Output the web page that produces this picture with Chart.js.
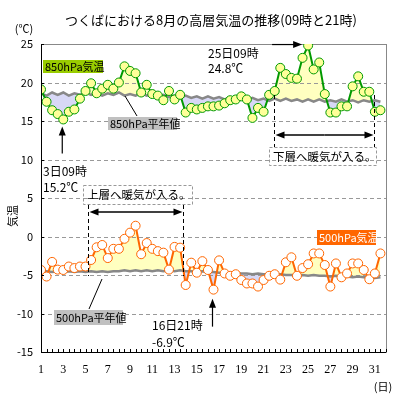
<!DOCTYPE html>
<html>
<head>
<meta charset="utf-8">
<script src="https://cdn.jsdelivr.net/npm/chart.js@4.4.1/dist/chart.umd.min.js"></script>
<style>
  html, body { margin: 0; padding: 0; background: #fff; }
</style>
</head>
<body>
<canvas id="chart" width="400" height="400"></canvas>
<script>
// 09時と21時の観測 (8月1日09時 〜 8月31日21時)
const obsDays = [];
for (let d = 1; d <= 31; d++) { obsDays.push(d, d + 0.5); }

// 850hPa 気温
const temp850 = [19.1, 17.5, 16.4, 15.9, 15.2, 16.2, 16.5, 17.9, 18.9, 19.9,
  18.6, 19.2, 19.7, 19.2, 20.0, 22.1, 21.5, 21.2, 18.7, 19.7,
  18.5, 18.3, 17.7, 18.9, 17.8, 18.4, 16.1, 16.7, 16.5, 16.7,
  16.9, 16.9, 17.0, 17.3, 17.7, 17.8, 18.2, 17.8, 15.4, 16.7,
  16.2, 18.4, 18.9, 21.9, 21.1, 20.6, 20.5, 23.2, 24.8, 21.7,
  22.6, 18.5, 16.1, 16.1, 16.9, 16.9, 19.5, 20.8, 18.8, 18.8,
  16.2, 16.4];

// 850hPa 平年値
const normal850 = [18.6, 18.3, 18.7, 18.4, 18.7, 18.3, 18.6, 18.4, 18.7, 18.4,
  18.6, 18.3, 18.6, 18.4, 18.7, 18.3, 18.5, 18.3, 18.6, 18.3,
  18.5, 18.2, 18.4, 18.1, 18.3, 18.0, 18.3, 18.0, 18.2, 17.9,
  18.2, 17.9, 18.1, 17.8, 18.1, 17.8, 18.0, 17.7, 18.0, 17.7,
  17.9, 17.6, 17.9, 17.6, 17.9, 17.6, 17.8, 17.5, 17.8, 17.5,
  17.8, 17.5, 17.7, 17.5, 17.8, 17.5, 17.7, 17.4, 17.7, 17.5,
  17.7, 17.5];

// 500hPa 気温
const temp500 = [-4.35, -5.2, -3.3, -4.3, -4.35, -3.9, -4.1, -3.9, -3.9, -3.05,
  -1.4, -1.1, -2.8, -1.6, -1.6, -0.3, 0.5, 1.4, -2.3, -0.85,
  -1.6, -1.9, -2.1, -4.3, -1.35, -1.45, -6.3, -3.4, -4.7, -3.2,
  -4.35, -6.9, -3.1, -4.8, -5.1, -4.9, -5.65, -6.1, -6.1, -6.5,
  -5.65, -5.1, -4.9, -5.6, -3.35, -2.7, -5.1, -4.1, -3.6, -2.2,
  -2.2, -3.7, -6.5, -3.5, -5.3, -4.8, -3.5, -3.5, -4.35, -5.55,
  -4.8, -2.2];

// 500hPa 平年値
const normal500 = [-4.6, -4.5, -4.6, -4.5, -4.6, -4.5, -4.6, -4.5, -4.6, -4.5,
  -4.6, -4.5, -4.6, -4.5, -4.5, -4.4, -4.5, -4.4, -4.5, -4.4,
  -4.5, -4.4, -4.5, -4.4, -4.5, -4.4, -4.5, -4.5, -4.6, -4.5,
  -4.6, -4.6, -4.7, -4.7, -4.8, -4.7, -4.8, -4.8, -4.9, -4.8,
  -4.9, -4.9, -5.0, -4.9, -5.0, -5.0, -5.1, -5.0, -5.1, -5.0,
  -5.1, -5.1, -5.2, -5.1, -5.2, -5.2, -5.3, -5.2, -5.3, -5.3,
  -5.4, -5.3];

// 暖気の入った期間 (日)
const warmUpper = [5.25, 13.8];
const warmLower = [21.9, 30.9];

const FONT = '"Noto Sans CJK JP", "Noto Sans", sans-serif';

function toXY(values) {
  return values.map((v, i) => ({ x: obsDays[i], y: v }));
}

// Draw a line with a filled arrow head at (x2, y2)
function arrow(ctx, x1, y1, x2, y2) {
  const a = Math.atan2(y2 - y1, x2 - x1);
  ctx.beginPath();
  ctx.moveTo(x1, y1);
  ctx.lineTo(x2 - 6 * Math.cos(a), y2 - 6 * Math.sin(a));
  ctx.stroke();
  ctx.beginPath();
  ctx.moveTo(x2, y2);
  ctx.lineTo(x2 - 9 * Math.cos(a) + 3.5 * Math.sin(a), y2 - 9 * Math.sin(a) - 3.5 * Math.cos(a));
  ctx.lineTo(x2 - 9 * Math.cos(a) - 3.5 * Math.sin(a), y2 - 9 * Math.sin(a) + 3.5 * Math.cos(a));
  ctx.closePath();
  ctx.fill();
}

function labelBox(ctx, text, x, y, w, h, bg, fg) {
  ctx.fillStyle = bg;
  ctx.fillRect(x, y, w, h);
  ctx.fillStyle = fg;
  ctx.textAlign = 'left';
  ctx.textBaseline = 'middle';
  ctx.fillText(text, x + 2, y + h / 2 + 0.5);
}

// Frame, grid, minor ticks, texts and arrows
const decorations = {
  id: 'decorations',
  beforeDatasetsDraw(chart) {
    const { ctx, chartArea: a } = chart;
    const ys = chart.scales.y;
    ctx.save();
    ctx.strokeStyle = '#888';
    ctx.lineWidth = 1;
    ctx.strokeRect(a.left + 0.5, a.top + 0.5, a.right - a.left, a.bottom - a.top);
    // dashed horizontal grid
    ctx.strokeStyle = '#999';
    ctx.setLineDash([4, 3]);
    ctx.beginPath();
    for (let v = -10; v <= 20; v += 5) {
      const y = Math.round(ys.getPixelForValue(v)) + 0.5;
      ctx.moveTo(a.left, y);
      ctx.lineTo(a.right, y);
    }
    ctx.stroke();
    ctx.restore();
  },
  afterDraw(chart) {
    const { ctx, chartArea: a } = chart;
    const xs = chart.scales.x, ys = chart.scales.y;
    ctx.save();

    // axes lines
    ctx.strokeStyle = '#000';
    ctx.lineWidth = 1;
    ctx.beginPath();
    ctx.moveTo(a.left + 0.5, a.top);
    ctx.lineTo(a.left + 0.5, a.bottom + 0.5);
    ctx.lineTo(a.right, a.bottom + 0.5);
    ctx.stroke();

    // minor ticks on the day axis
    ctx.beginPath();
    for (let v = 1; v <= 32; v += 0.5) {
      const x = Math.round(xs.getPixelForValue(v)) + 0.5;
      ctx.moveTo(x, a.bottom);
      ctx.lineTo(x, a.bottom - 3);
    }
    // ticks on temperature axis
    for (let v = -15; v <= 25; v += 5) {
      const y = Math.round(ys.getPixelForValue(v)) + 0.5;
      ctx.moveTo(a.left, y);
      ctx.lineTo(a.left + 3, y);
    }
    ctx.stroke();

    // title and unit labels
    ctx.fillStyle = '#000';
    ctx.font = '13px ' + FONT;
    ctx.textAlign = 'center';
    ctx.textBaseline = 'middle';
    ctx.fillText('つくばにおける8月の高層気温の推移(09時と21時)', 211, 20);
    ctx.font = '11px ' + FONT;
    ctx.fillText('(℃)', 24, 29);
    ctx.fillText('(日)', 383, 387);
    ctx.save();
    ctx.translate(13, 216);
    ctx.rotate(-Math.PI / 2);
    ctx.fillText('気温', 0, 0);
    ctx.restore();

    // legend labels
    ctx.font = '11px ' + FONT;
    labelBox(ctx, '850hPa気温', 43, 60, 60, 13, '#99cc00', '#000');
    labelBox(ctx, '500hPa気温', 317, 230, 59, 15, '#ff6600', '#fff');

    // leader lines to normal labels
    ctx.strokeStyle = '#000';
    ctx.lineWidth = 1;
    ctx.beginPath();
    ctx.moveTo(125, 96); ctx.lineTo(137, 116);
    ctx.moveTo(102, 279); ctx.lineTo(89, 309);
    ctx.stroke();
    labelBox(ctx, '850hPa平年値', 108, 117, 69, 13, '#c0c0c0', '#000');
    labelBox(ctx, '500hPa平年値', 54, 310, 69, 15, '#c0c0c0', '#000');

    // annotation texts
    ctx.fillStyle = '#000';
    ctx.font = '12px ' + FONT;
    ctx.textAlign = 'left';
    ctx.fillText('25日09時', 208, 53);
    ctx.fillText('24.8℃', 208, 68);
    ctx.fillText('3日09時', 43, 171);
    ctx.fillText('15.2℃', 43, 187);
    ctx.fillText('16日21時', 152, 325);
    ctx.fillText('-6.9℃', 152, 342);

    // arrows pointing at extreme values
    ctx.fillStyle = '#000';
    ctx.strokeStyle = '#000';
    ctx.lineWidth = 1.2;
    const iMax = temp850.indexOf(Math.max(...temp850));
    const pMax = { x: xs.getPixelForValue(obsDays[iMax]), y: ys.getPixelForValue(temp850[iMax]) };
    arrow(ctx, pMax.x - 36, pMax.y - 1, pMax.x - 6, pMax.y - 1);
    const iMin850 = temp850.indexOf(Math.min(...temp850));
    const p3 = { x: xs.getPixelForValue(obsDays[iMin850]), y: ys.getPixelForValue(temp850[iMin850]) };
    arrow(ctx, p3.x - 1, p3.y + 34, p3.x - 1, p3.y + 7);
    const iMin500 = temp500.indexOf(Math.min(...temp500));
    const p16 = { x: xs.getPixelForValue(obsDays[iMin500]), y: ys.getPixelForValue(temp500[iMin500]) };
    arrow(ctx, p16.x - 1, p16.y + 37, p16.x - 1, p16.y + 9);

    // warm air periods
    function warmSpan(span, yTop, yBottom, yArrow, box, text) {
      const x1 = Math.round(xs.getPixelForValue(span[0])) + 0.5;
      const x2 = Math.round(xs.getPixelForValue(span[1])) + 0.5;
      ctx.strokeStyle = '#000';
      ctx.lineWidth = 1;
      ctx.setLineDash([4, 3]);
      ctx.beginPath();
      ctx.moveTo(x1, yTop); ctx.lineTo(x1, yBottom);
      ctx.moveTo(x2, yTop); ctx.lineTo(x2, yBottom);
      ctx.stroke();
      ctx.setLineDash([]);
      ctx.lineWidth = 1.5;
      const mid = (x1 + x2) / 2;
      arrow(ctx, mid, yArrow, x1 + 1, yArrow);
      arrow(ctx, mid, yArrow, x2 - 1, yArrow);
      ctx.strokeStyle = '#999';
      ctx.lineWidth = 1;
      ctx.setLineDash([3, 2]);
      ctx.strokeRect(box[0] + 0.5, box[1] + 0.5, box[2], box[3]);
      ctx.setLineDash([]);
      ctx.fillStyle = '#000';
      ctx.font = '11.5px ' + FONT;
      ctx.textAlign = 'left';
      ctx.textBaseline = 'middle';
      ctx.fillText(text, box[0] + 4, box[1] + box[3] / 2 + 0.5);
    }
    warmSpan(warmUpper, 205, 276, 212, [83, 185, 109, 19], '上層へ暖気が入る。');
    warmSpan(warmLower, 95, 147, 135, [269, 147, 107, 18], '下層へ暖気が入る。');

    ctx.restore();
  }
};

const ctx = document.getElementById('chart').getContext('2d');
new Chart(ctx, {
  type: 'line',
  data: {
    datasets: [
      {
        label: '850hPa気温',
        data: toXY(temp850),
        borderColor: '#009900',
        borderWidth: 2,
        pointRadius: 4.5,
        pointBorderWidth: 1,
        pointBackgroundColor: '#ffff99',
        pointBorderColor: '#009900',
        fill: { target: 1, above: '#ffffc0', below: '#d8d8f6' },
        order: 0,
      },
      {
        label: '850hPa平年値',
        data: toXY(normal850),
        borderColor: '#888888',
        borderWidth: 2.5,
        pointRadius: 0,
        fill: false,
        order: 1,
      },
      {
        label: '500hPa気温',
        data: toXY(temp500),
        borderColor: '#ff6600',
        borderWidth: 2,
        pointRadius: 4.5,
        pointBorderWidth: 1,
        pointBackgroundColor: '#ffffff',
        pointBorderColor: '#ff6600',
        fill: { target: 3, above: '#ffffc0', below: '#d8d8f6' },
        order: 0,
      },
      {
        label: '500hPa平年値',
        data: toXY(normal500),
        borderColor: '#888888',
        borderWidth: 2.5,
        pointRadius: 0,
        fill: false,
        order: 1,
      },
    ],
  },
  options: {
    responsive: false,
    animation: false,
    layout: { padding: { top: 44, right: 14, left: 0, bottom: 0 } },
    plugins: {
      legend: { display: false },
      tooltip: { enabled: false },
      filler: { drawTime: 'beforeDatasetsDraw' },
    },
    scales: {
      x: {
        type: 'linear',
        min: 1,
        max: 32,
        afterFit: s => { s.height = 48; },
        grid: { display: false, drawTicks: false },
        border: { display: false },
        ticks: {
          stepSize: 1,
          autoSkip: false,
          maxRotation: 0,
          padding: 11,
          color: '#000',
          font: { family: '"Liberation Serif", serif', size: 12 },
          callback: v => (v % 2 === 1 ? String(v) : ''),
        },
      },
      y: {
        min: -15,
        max: 25,
        afterFit: s => { s.width = 41; },
        border: { display: false },
        grid: { display: false, drawTicks: false },
        ticks: {
          stepSize: 5,
          padding: 8,
          color: '#000',
          font: { family: FONT, size: 11 },
        },
      },
    },
  },
  plugins: [decorations],
});
</script>
</body>
</html>
